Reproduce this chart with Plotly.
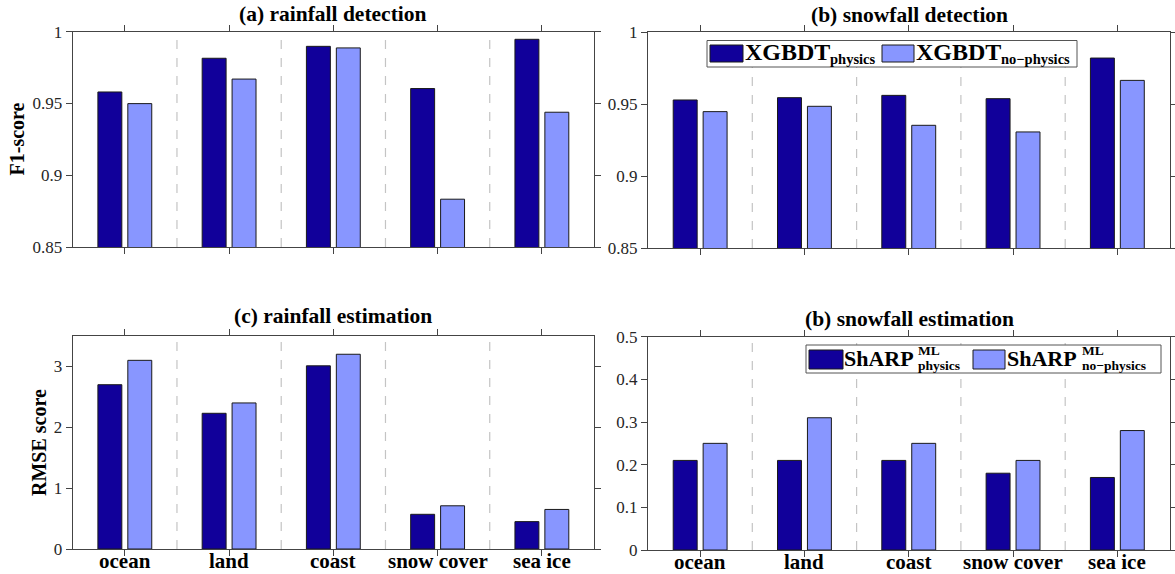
import plotly.graph_objects as go

# ---- data ----
surfaces = ["ocean", "land", "coast", "snow cover", "sea ice"]

rain_det_physics = [0.958, 0.9815, 0.9898, 0.9604, 0.9947]
rain_det_nophys = [0.9499, 0.967, 0.9887, 0.8833, 0.9439]

snow_det_physics = [0.9528, 0.9544, 0.956, 0.9537, 0.9819]
snow_det_nophys = [0.9447, 0.9484, 0.9352, 0.9306, 0.9664]

rain_est_physics = [2.70, 2.23, 3.01, 0.57, 0.45]
rain_est_nophys = [3.10, 2.40, 3.20, 0.71, 0.65]

snow_est_physics = [0.21, 0.21, 0.21, 0.18, 0.17]
snow_est_nophys = [0.25, 0.31, 0.25, 0.21, 0.28]

det_ticks = [0.85, 0.9, 0.95, 1.0]
det_ticktext = ["0.85", "0.9", "0.95", "1"]
rain_est_ticks = [0, 1, 2, 3]
snow_est_ticks = [0, 0.1, 0.2, 0.3, 0.4, 0.5]

# ---- style ----
W, H = 1175, 574
DARK = "#11009a"
LIGHT = "#8896ff"
EDGE = "#1a1a1a"
AXC = "#444444"
SEP = "#c4c4c4"
SERIF = "Liberation Serif, Times New Roman, serif"


def px(x):
    return x / W


def py(y):
    return 1 - y / H


fig = go.Figure()

panels = [
    # (xaxis, yaxis, physics, no-physics, x-domain px, y-domain px, range, ticks, ticktext, show labels)
    ("x", "y", rain_det_physics, rain_det_nophys, (72.7, 594), (31.7, 247), [0.85, 1.0], det_ticks, det_ticktext, False),
    ("x2", "y2", snow_det_physics, snow_det_nophys, (648, 1169.5), (32, 248), [0.85, 1.0], det_ticks, det_ticktext, False),
    ("x3", "y3", rain_est_physics, rain_est_nophys, (72.7, 594), (336, 549), [0, 3.5], rain_est_ticks, [str(v) for v in rain_est_ticks], True),
    ("x4", "y4", snow_est_physics, snow_est_nophys, (648, 1169.5), (336.7, 550), [0, 0.5], snow_est_ticks, [str(v) for v in snow_est_ticks], True),
]

layout_axes = {}
for i, (xa, ya, phys, noph, xd, yd, yr, tv, tt, showlab) in enumerate(panels):
    for vals, col in ((phys, DARK), (noph, LIGHT)):
        fig.add_trace(go.Bar(
            x=surfaces, y=vals, xaxis=xa, yaxis=ya,
            marker=dict(color=col, line=dict(color=EDGE, width=1)),
            showlegend=False, hoverinfo="x+y",
        ))
    xkey = "xaxis" if xa == "x" else "xaxis" + xa[1:]
    ykey = "yaxis" if ya == "y" else "yaxis" + ya[1:]
    layout_axes[xkey] = dict(
        domain=[px(xd[0]), px(xd[1])], anchor=ya, type="category",
        categoryorder="array", categoryarray=surfaces,
        range=[-0.5, len(surfaces) - 0.5],
        showline=True, linecolor=AXC, linewidth=1, mirror="ticks",
        ticks="outside", ticklen=6, tickcolor=AXC, showgrid=False,
        showticklabels=False,
        fixedrange=True,
    )
    layout_axes[ykey] = dict(
        domain=[py(yd[1]), py(yd[0])], anchor=xa, range=yr,
        tickvals=tv, ticktext=tt,
        showline=True, linecolor=AXC, linewidth=1, mirror="ticks",
        ticks="outside", ticklen=6, tickcolor=AXC, showgrid=False,
        zeroline=False,
        tickfont=dict(family=SERIF, size=17, color="#262626"),
        fixedrange=True,
    )
    # dashed separators between surface types
    for k in range(len(surfaces) - 1):
        fig.add_shape(type="line", xref=xa, yref=ya + " domain",
                      x0=k + 0.5, x1=k + 0.5, y0=0, y1=1,
                      line=dict(color=SEP, width=1.2, dash="dash"), layer="below")
    # surface names under the lower panels, placed on the category axis
    if showlab:
        for name in surfaces:
            fig.add_annotation(text="<b>%s</b>" % name, x=name, xref=xa,
                               y=py(yd[1] + 12), yref="paper",
                               showarrow=False, xanchor="center", yanchor="middle",
                               borderpad=0,
                               font=dict(family=SERIF, size=21, color="#000000"))

fig.update_layout(**layout_axes)

# ---- panel titles ----
titles = [
    ("<b>(a) rainfall detection</b>", 333, 14),
    ("<b>(b) snowfall detection</b>", 909, 15),
    ("<b>(c) rainfall estimation</b>", 333, 315.5),
    ("<b>(b) snowfall estimation</b>", 909, 319),
]
for txt, x, y in titles:
    fig.add_annotation(text=txt, x=px(x), y=py(y), xref="paper", yref="paper",
                       showarrow=False, xanchor="center", yanchor="middle",
                       font=dict(family=SERIF, size=21.5, color="#000000"))

# ---- y-axis titles ----
for txt, x, y in (("<b>F1-score</b>", 16.5, 139), ("<b>RMSE score</b>", 39, 442)):
    fig.add_annotation(text=txt, x=px(x), y=py(y), xref="paper", yref="paper",
                       showarrow=False, textangle=-90, xanchor="center", yanchor="middle",
                       font=dict(family=SERIF, size=20, color="#000000"))


# ---- legends ----
def legend_box(x0, y0, x1, y1):
    fig.add_shape(type="rect", xref="paper", yref="paper",
                  x0=px(x0), x1=px(x1), y0=py(y1), y1=py(y0),
                  line=dict(color="#555555", width=1), fillcolor="white", layer="above")


def swatch(x0, y0, x1, y1, col):
    fig.add_shape(type="rect", xref="paper", yref="paper",
                  x0=px(x0), x1=px(x1), y0=py(y1), y1=py(y0),
                  line=dict(color=EDGE, width=1), fillcolor=col, layer="above")


def text(t, x, y, size, anchor="left"):
    fig.add_annotation(text=t, x=px(x), y=py(y), xref="paper", yref="paper",
                       showarrow=False, xanchor=anchor, yanchor="middle",
                       font=dict(family=SERIF, size=size, color="#000000"),
                       borderpad=0)


# detection legend
legend_box(707, 40.5, 1077, 67)
swatch(710, 45, 743, 62, DARK)
text("<b>XGBDT</b>", 743.5, 52.5, 24)
text("<b>physics</b>", 829, 58.5, 14.5)
swatch(882, 45, 914, 62, LIGHT)
text("<b>XGBDT</b>", 914.5, 52.5, 24)
text("<b>no\u2212physics</b>", 1000, 58.5, 14.5)

# estimation legend
legend_box(806, 345, 1161, 373)
swatch(809, 350, 843, 369, DARK)
text("<b>ShARP</b>", 843, 358, 22)
text("<b>ML</b>", 917, 350.5, 13.5)
text("<b>physics</b>", 917, 365, 13.5)
swatch(973, 350, 1005, 369, LIGHT)
text("<b>ShARP</b>", 1006, 358, 22)
text("<b>ML</b>", 1081, 350.5, 13.5)
text("<b>no\u2212physics</b>", 1081, 365, 13.5)

fig.update_layout(
    width=W, height=H,
    margin=dict(l=0, r=0, t=0, b=0, autoexpand=False),
    paper_bgcolor="white", plot_bgcolor="white",
    barmode="group", bargap=0.426, bargroupgap=0.2,
    showlegend=False,
)

fig.write_html("out.html", config={"displayModeBar": False})
